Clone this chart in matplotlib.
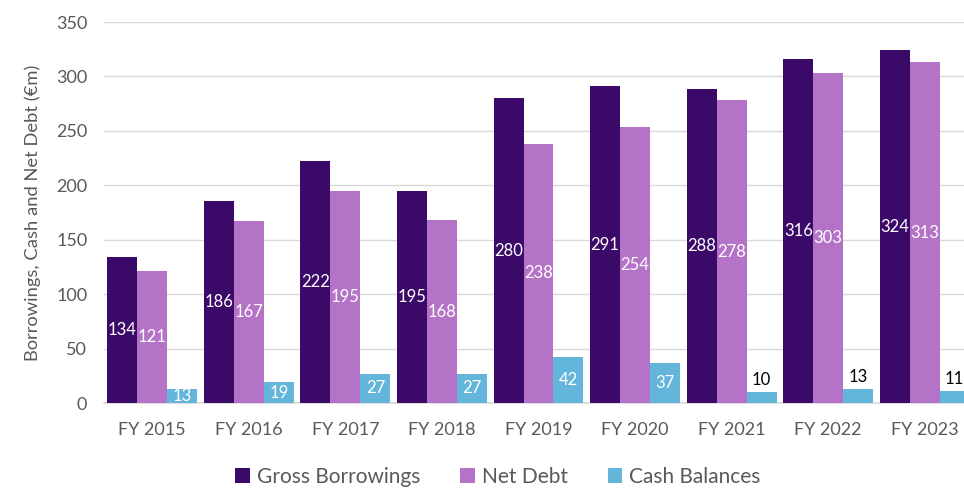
import matplotlib
matplotlib.use("Agg")
import matplotlib.pyplot as plt
import numpy as np
from matplotlib.patches import Patch

categories = ["FY 2015", "FY 2016", "FY 2017", "FY 2018", "FY 2019",
              "FY 2020", "FY 2021", "FY 2022", "FY 2023"]
gross = [134, 186, 222, 195, 280, 291, 288, 316, 324]
net = [121, 167, 195, 168, 238, 254, 278, 303, 313]
cash = [13, 19, 27, 27, 42, 37, 10, 13, 11]
cash_label_inside = [True, True, True, True, True, True, False, False, False]
series_names = ["Gross Borrowings", "Net Debt", "Cash Balances"]
colors = ["#3b0a68", "#b473c7", "#63b6da"]

plt.rcParams['font.family'] = ['Lato', 'DejaVu Sans']
TXT = "#595959"

fig = plt.figure(figsize=(9.64, 4.88), dpi=100)
W, H = 964, 488
ax = fig.add_axes([104 / W, (H - 403) / H, 869 / W, (403 - 22) / H])

x = np.arange(len(categories))
bw = 0.31
for i, (vals, col) in enumerate(zip([gross, net, cash], colors)):
    bars = ax.bar(x + (i - 1) * bw, vals, bw, color=col, zorder=3, label=series_names[i])
    if i < 2:
        ax.bar_label(bars, labels=[str(v) for v in vals], label_type='center',
                     color='white', fontsize=12)
    else:
        for b, v, inside in zip(bars, vals, cash_label_inside):
            if inside:
                ax.annotate(str(v), (b.get_x() + b.get_width() / 2, v / 2),
                            ha='center', va='center', color='white', fontsize=12)
            else:
                ax.annotate(str(v), (b.get_x() + b.get_width() / 2, v),
                            xytext=(0, 3), textcoords='offset points',
                            ha='center', va='bottom', color='black', fontsize=12)

ax.set_xlim(-0.5, len(categories) - 0.5)
ax.set_ylim(0, 350)
ax.set_yticks(np.arange(0, 351, 50))
ax.set_xticks(x)
ax.set_xticklabels(categories)
ax.grid(axis='y', color='#d9d9d9', linewidth=1, zorder=0)
for s in ['top', 'right', 'left']:
    ax.spines[s].set_visible(False)
ax.spines['bottom'].set_color('#d9d9d9')
ax.spines['bottom'].set_linewidth(1.2)
ax.tick_params(axis='both', length=0, labelcolor=TXT, labelsize=13)
ax.tick_params(axis='x', pad=14)
ax.tick_params(axis='y', pad=12)
ax.set_ylabel("Borrowings, Cash and Net Debt (€m)", color=TXT, fontsize=13.2, labelpad=11)

handles = [Patch(facecolor=c) for c in colors]
fig.legend(handles, series_names, loc='center', bbox_to_anchor=(498 / W, 1 - 477 / H),
           ncol=3, frameon=False, fontsize=15, labelcolor=TXT,
           handlelength=0.7, handleheight=0.7, handletextpad=0.35, columnspacing=1.9)

fig.savefig("out.png", dpi=100)
